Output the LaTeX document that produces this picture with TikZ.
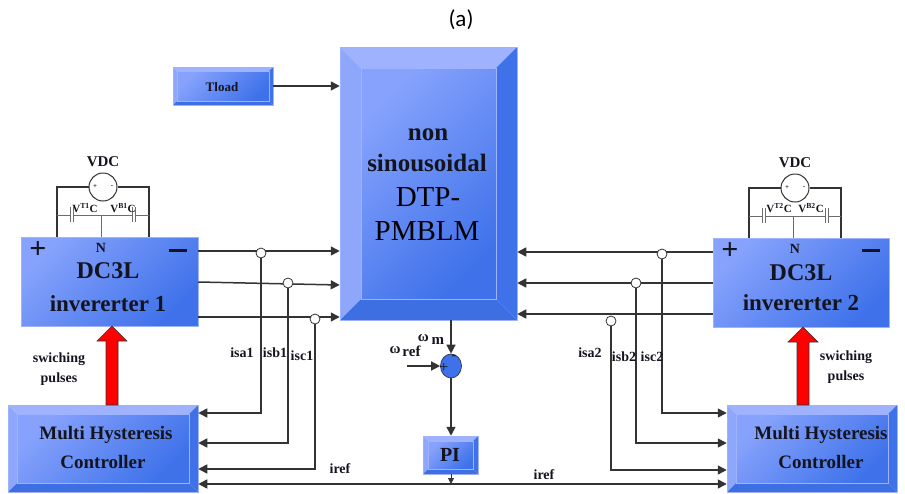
\documentclass[tikz,border=0pt]{standalone}
\usepackage{fontspec}
\setmainfont{Liberation Serif}
\newfontfamily\capfont{Carlito}
\usetikzlibrary{arrows.meta,shapes.geometric}
\definecolor{wirecol}{HTML}{333333}
\definecolor{txtcol}{HTML}{14141E}
\definecolor{facetop}{HTML}{9FB2FD}
\definecolor{faceleft}{HTML}{8FA7FB}
\definecolor{faceright}{HTML}{3F72E8}
\definecolor{facebot}{HTML}{3E6FE2}
\definecolor{facelight}{HTML}{86A2FC}
\definecolor{facedark}{HTML}{3F72EA}
\tikzset{
  wire/.style={draw=wirecol, line width=1.5pt},
  thinwire/.style={draw=gray!85!black, line width=0.9pt},
  arr/.style={wire, -{Triangle[length=9pt,width=9pt]}},
  juncnode/.style={circle, draw=wirecol, line width=0.8pt, fill=white, inner sep=0pt, minimum size=10pt},
  flatbox/.style={inner sep=0pt, top color=facelight, bottom color=facedark, shading angle=45, draw=facetop, line width=0.5pt},
  lab/.style={inner sep=0pt, text=txtcol, font=\bfseries, align=center},
  redarrow/.style={fill=red, draw=wirecol, line width=0.6pt},
  capplate/.style={draw=gray!85!black, line width=1pt}
}
% box with four slanted faces: name, x1, y1, x2, y2, depth
\newcommand{\bevelbox}[6]{
  \fill[facetop] (#2,#3) -- (#4,#3) -- (#4-#6,#3+#6) -- (#2+#6,#3+#6) -- cycle;
  \fill[faceleft] (#2,#3) -- (#2+#6,#3+#6) -- (#2+#6,#5-#6) -- (#2,#5) -- cycle;
  \fill[faceright] (#4,#3) -- (#4-#6,#3+#6) -- (#4-#6,#5-#6) -- (#4,#5) -- cycle;
  \fill[facebot] (#2,#5) -- (#2+#6,#5-#6) -- (#4-#6,#5-#6) -- (#4,#5) -- cycle;
  \path[top color=facelight, bottom color=facedark, shading angle=45, draw=facetop, line width=0.4pt] (#2+#6,#3+#6) rectangle (#4-#6,#5-#6);
  \pgfmathsetmacro{\boxw}{#4-#2}
  \pgfmathsetmacro{\boxh}{#5-#3}
  \node[draw=facetop, line width=0.5pt, inner sep=0pt, minimum width=\boxw pt, minimum height=\boxh pt] (#1) at ({(#2+#4)/2},{(#3+#5)/2}) {};
}
\begin{document}
\begin{tikzpicture}[x=1pt,y=-1pt]
\useasboundingbox (0,0) rectangle (905,493);
\node[inner sep=0pt, font=\capfont\fontsize{23}{25}\selectfont] (title) at (461,20) {(a)};

% boxes
\bevelbox{mainbox}{340}{47}{517}{320}{21}
\bevelbox{tload}{173}{67}{273}{105}{4}
\bevelbox{pibox}{423}{436}{478}{474}{5}
\bevelbox{ctrlone}{8}{405}{198}{492}{9}
\bevelbox{ctrltwo}{727}{405}{897}{492}{9}
\node[flatbox, minimum width=177pt, minimum height=89pt] (invone) at (109.5,281.5) {};
\node[flatbox, minimum width=176pt, minimum height=89pt] (invtwo) at (801,282.5) {};

% left source and capacitors
\node[circle, draw=wirecol, line width=1pt, fill=white, inner sep=0pt, minimum size=28pt] (vdcone) at (103,187) {};
\draw[wire] (vdcone.west) -- (57,187) -- (invone.north -| 57,0);
\draw[wire] (vdcone.east) -- (149,187) -- (invone.north -| 149,0);
\draw[thinwire] (57,215) -- (70.5,215) (73.5,215) -- (132.5,215) (135.5,215) -- (149,215);
\draw[thinwire] (101,215) -- (invone.north -| 101,0);
\draw[capplate] (70.5,207) -- (70.5,222) (73.5,207) -- (73.5,222);
\draw[capplate] (132.5,207) -- (132.5,222) (135.5,207) -- (135.5,222);
\node[lab, font=\bfseries\fontsize{7}{7}\selectfont] (plusone) at (95,187) {+};
\node[lab, font=\bfseries\fontsize{7}{7}\selectfont] (minusone) at (112,187) {-};

% right source and capacitors
\node[circle, draw=wirecol, line width=1pt, fill=white, inner sep=0pt, minimum size=28pt] (vdctwo) at (795,188) {};
\draw[wire] (vdctwo.west) -- (749,188) -- (invtwo.north -| 749,0);
\draw[wire] (vdctwo.east) -- (841,188) -- (invtwo.north -| 841,0);
\draw[thinwire] (749,216) -- (762.5,216) (765.5,216) -- (825.5,216) (828.5,216) -- (841,216);
\draw[thinwire] (793,216) -- (invtwo.north -| 793,0);
\draw[capplate] (762.5,208) -- (762.5,223) (765.5,208) -- (765.5,223);
\draw[capplate] (825.5,208) -- (825.5,223) (828.5,208) -- (828.5,223);
\node[lab, font=\bfseries\fontsize{7}{7}\selectfont] (plustwo) at (787,188) {+};
\node[lab, font=\bfseries\fontsize{7}{7}\selectfont] (minustwo) at (804,188) {-};

% connectors
\draw[arr] (tload.east) -- (mainbox.west |- tload.east);
\draw[arr] (invone.east |- 0,251) -- (mainbox.west |- 0,251);
\draw[arr] (invone.east |- 0,282) -- (mainbox.west |- 0,285);
\draw[arr] (invone.east |- 0,317) -- (mainbox.west |- 0,317);
\draw[arr] (invtwo.west |- 0,252) -- (mainbox.east |- 0,252);
\draw[arr] (invtwo.west |- 0,283) -- (mainbox.east |- 0,283);
\draw[arr] (invtwo.west |- 0,314) -- (mainbox.east |- 0,314);

\node[juncnode] (jaone) at (261,253) {};
\node[juncnode] (jbone) at (288,283) {};
\node[juncnode] (jcone) at (315,319) {};
\node[juncnode] (jatwo) at (662,254) {};
\node[juncnode] (jbtwo) at (636,283) {};
\node[juncnode] (jctwo) at (611,321) {};
\draw[arr] (jaone.south) |- (ctrlone.east |- 0,413);
\draw[arr] (jbone.south) |- (ctrlone.east |- 0,443);
\draw[arr] (jcone.south) |- (ctrlone.east |- 0,469);
\draw[arr] (jatwo.south) |- (ctrltwo.west |- 0,413);
\draw[arr] (jbtwo.south) |- (ctrltwo.west |- 0,443);
\draw[arr] (jctwo.south) |- (ctrltwo.west |- 0,470);
\draw[wire, {Triangle[length=9pt,width=9pt]}-{Triangle[length=9pt,width=9pt]}] (ctrlone.east |- 0,484) -- (ctrltwo.west |- 0,484);

% speed loop
\node[ellipse, draw=wirecol, line width=0.7pt, fill=facedark, inner sep=0pt, minimum width=21pt, minimum height=24pt] (sumnode) at (451,366) {};
\coordinate (wrefstart) at (407,366);
\coordinate (pibus) at (451,484);
\draw[arr] (mainbox.south -| sumnode) -- (sumnode.north);
\draw[arr] (wrefstart) -- (sumnode.west);
\draw[arr] (sumnode.south) -- (pibox.north -| sumnode);
\draw[wire, line width=0.9pt, -{Triangle[length=6pt,width=6pt]}] (pibox.south -| sumnode) -- (pibus);
\node[lab, font=\fontsize{16}{16}\selectfont] (sumplus) at (444,368) {+};
\node[lab, font=\fontsize{14}{14}\selectfont] (summinus) at (454,358) {-};

% red arrows
\draw[redarrow] (106,405) -- (106,341) -- (97,341) -- (112,326) -- (127,341) -- (118,341) -- (118,405) -- cycle;
\draw[redarrow] (797,405) -- (797,342) -- (788,342) -- (803,327) -- (818,342) -- (809,342) -- (809,405) -- cycle;

% texts
\node[lab, font=\bfseries\fontsize{25}{25}\selectfont] (tnon) at (428,135) {non};
\node[lab, font=\bfseries\fontsize{25}{25}\selectfont] (tsin) at (427,163) {sinousoidal};
\node[lab, text=black, font=\mdseries\fontsize{29}{29}\selectfont] (tdtp) at (428,197) {DTP-};
\node[lab, text=black, font=\mdseries\fontsize{29}{29}\selectfont] (tpm) at (427,231) {PMBLM};
\node[lab, font=\bfseries\fontsize{13}{13}\selectfont] (ttload) at (222,87) {Tload};
\node[lab, font=\bfseries\fontsize{20}{20}\selectfont] (tpi) at (450,455) {PI};

\node[lab, font=\bfseries\fontsize{15}{15}\selectfont] (tvdcone) at (103,162) {VDC};
\node[lab, font=\bfseries\fontsize{15}{15}\selectfont] (tvdctwo) at (795,163) {VDC};
\node[lab, font=\bfseries\fontsize{11}{11}\selectfont] (tvtone) at (85,208) {V\textsuperscript{T1}C};
\node[lab, font=\bfseries\fontsize{11}{11}\selectfont] (tvbone) at (123,208) {V\textsuperscript{B1}C};
\node[lab, font=\bfseries\fontsize{11}{11}\selectfont] (tvttwo) at (779,208) {V\textsuperscript{T2}C};
\node[lab, font=\bfseries\fontsize{11}{11}\selectfont] (tvbtwo) at (811,208) {V\textsuperscript{B2}C};

\node[lab, font=\bfseries\fontsize{14}{14}\selectfont] (tnone) at (101,248) {N};
\node[lab, font=\bfseries\fontsize{14}{14}\selectfont] (tntwo) at (795,249) {N};
\node[lab, font=\bfseries\fontsize{30}{30}\selectfont] (tpone) at (38,250) {+};
\node[lab, font=\bfseries\fontsize{28}{28}\selectfont] (tmone) at (178,250) {\rule{18pt}{3pt}};
\node[lab, font=\bfseries\fontsize{30}{30}\selectfont] (tptwo) at (730,251) {+};
\node[lab, font=\bfseries\fontsize{28}{28}\selectfont] (tmtwo) at (871,250) {\rule{18pt}{3pt}};
\node[lab, font=\bfseries\fontsize{24}{24}\selectfont] (tdcone) at (108,271) {DC3L};
\node[lab, font=\bfseries\fontsize{23}{23}\selectfont] (tinvone) at (108,304) {invererter 1};
\node[lab, font=\bfseries\fontsize{24}{24}\selectfont] (tdctwo) at (801,273) {DC3L};
\node[lab, font=\bfseries\fontsize{23}{23}\selectfont] (tinvtwo) at (801,303) {invererter 2};

\node[lab, font=\bfseries\fontsize{19}{19}\selectfont] (tmhone) at (106,435) {Multi Hysteresis};
\node[lab, font=\bfseries\fontsize{19}{19}\selectfont] (tctone) at (103,462) {Controller};
\node[lab, font=\bfseries\fontsize{19}{19}\selectfont] (tmhtwo) at (821,435) {Multi Hysteresis};
\node[lab, font=\bfseries\fontsize{19}{19}\selectfont] (tcttwo) at (821,462) {Controller};

\node[lab, font=\bfseries\fontsize{14}{16}\selectfont] (tswone) at (59,369) {swiching\\[4pt]pulses};
\node[lab, font=\bfseries\fontsize{14}{16}\selectfont] (tswtwo) at (846,367) {swiching\\[4pt]pulses};

\node[lab, font=\bfseries\fontsize{14}{14}\selectfont] (tisaone) at (242,353) {isa1};
\node[lab, font=\bfseries\fontsize{14}{14}\selectfont] (tisbone) at (275,353) {isb1};
\node[lab, font=\bfseries\fontsize{14}{14}\selectfont] (tiscone) at (302,356) {isc1};
\node[lab, font=\bfseries\fontsize{14}{14}\selectfont] (tisatwo) at (590,353) {isa2};
\node[lab, font=\bfseries\fontsize{14}{14}\selectfont] (tisbtwo) at (624,357) {isb2};
\node[lab, font=\bfseries\fontsize{14}{14}\selectfont] (tisctwo) at (652,357) {isc2};
\node[lab, font=\bfseries\fontsize{14}{14}\selectfont] (tirefone) at (340,469) {iref};
\node[lab, font=\bfseries\fontsize{14}{14}\selectfont] (tireftwo) at (544,475) {iref};

\node[lab, font=\bfseries\fontsize{15}{15}\selectfont] (tomm) at (431,339) {ω\hspace{3pt}\raisebox{-3pt}{m}};
\node[lab, font=\bfseries\fontsize{15}{15}\selectfont] (tomr) at (405,351) {ω\hspace{2pt}\raisebox{-3pt}{ref}};
\end{tikzpicture}
\end{document}
